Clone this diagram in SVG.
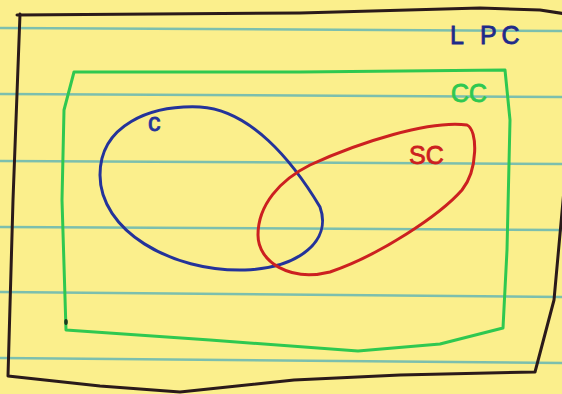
<svg xmlns="http://www.w3.org/2000/svg" width="562" height="394" viewBox="0 0 562 394">
<style>
.rule{stroke:#7cbfae;stroke-width:2.5;fill:none}
.pen{fill:none;stroke-width:3;stroke-linejoin:round;stroke-linecap:round}
.lbl{font-family:"Liberation Sans",sans-serif;font-size:25px;stroke-width:0.8}
</style>
<rect width="562" height="394" fill="#fbef8c"/>
<g id="ruled-lines">
<path class="rule" d="M0 28 L562 31"/>
<path class="rule" d="M0 94 L562 97"/>
<path class="rule" d="M0 161 L562 164"/>
<path class="rule" d="M0 227 L562 230"/>
<path class="rule" d="M0 292 L562 297"/>
<path class="rule" d="M0 358 L562 363"/>
</g>
<g id="LPC">
<path class="pen" stroke="#2a1a1a" d="M17 15 L300 13 L480 8 L540 10 L566 14 L564 190 L554 300 L535 372 L400 375 L294 380 L180 392 L100 386 L8 376 L13 200 L20 14"/>
<text class="lbl" x="450" y="44" fill="#1e2a8a" stroke="#1e2a8a" letter-spacing="5">L PC</text>
</g>
<g id="CC">
<path class="pen" stroke="#2fc850" d="M74 72 L300 72 L505 70 L510 120 L507 250 L503 328 L440 344 L358 351 L210 340 L66 330 L62 200 L64 110 Z"/>
<ellipse cx="66" cy="322" rx="1.8" ry="3" fill="#1a3a20"/>
<text class="lbl" x="451" y="102" fill="#2fc850" stroke="#2fc850">CC</text>
</g>
<g id="C">
<path class="pen" stroke="#24339a" d="M320 207 C332 240 300 268 245 270 C170 272 100 230 100 175 C100 125 150 105 200 107 C250 110 292 160 320 207 Z"/>
<text class="lbl" x="148" y="131" fill="#24339a" stroke="#24339a">c</text>
</g>
<g id="SC">
<path class="pen" stroke="#cc2020" d="M467 125 C478 130 478 170 462 190 C440 215 380 255 330 272 C290 282 258 262 258 235 C258 205 280 180 310 165 C360 142 430 120 467 125 Z"/>
<text class="lbl" x="409" y="164" fill="#cc2020" stroke="#cc2020">SC</text>
</g>
</svg>
